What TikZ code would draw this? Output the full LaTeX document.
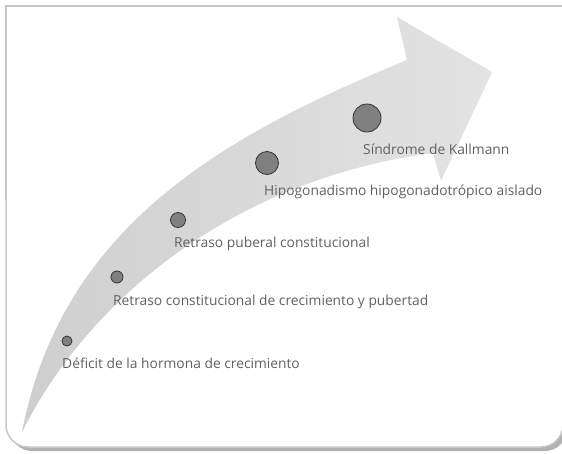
\documentclass[tikz,border=0pt]{standalone}
\usepackage{fontspec}
\setmainfont{Open Sans}
\usetikzlibrary{positioning}
\begin{document}
\begin{tikzpicture}[x=1pt,y=-1pt,font=\fontsize{13.8}{16}\selectfont]
  \tikzstyle{dot}=[circle,draw=black!80,fill=black!50,line width=0.8pt,inner sep=0pt]
  \tikzstyle{cause}=[anchor=base west,inner sep=0pt,text=black!62]
  \useasboundingbox (0,0) rectangle (562,453);
  % frame with shadow
  \fill[black!30,rounded corners=22pt] (10,100) -- (10,451) -- (567,451) -- (567,100) -- cycle;
  \fill[white,rounded corners=22pt] (6,6) -- (6,447) -- (563,447) -- (563,6) -- cycle;
  \draw[black!22,line width=1.5pt,rounded corners=22pt] (6,200) -- (6,447) -- (563,447) -- (563,200);
  \draw[black!22,line width=1.5pt] (6,200) -- (6,6) -- (563,6) -- (563,200);
  % curved arrow
  \shade[left color=black!19,right color=black!11] (22,432) .. controls (62,225) and (225,135) .. (407,60)
    -- (397,17) -- (492,72) -- (441,181) -- (433,153) .. controls (235,179) and (89,298) .. (22,432) -- cycle;
  \node[dot,minimum size=10pt] (ghd) at (67,341) {};
  \node[dot,minimum size=12pt] (rccp) at (117,277) {};
  \node[dot,minimum size=15pt] (rpc) at (178,220) {};
  \node[dot,minimum size=23pt] (hha) at (267,163) {};
  \node[dot,minimum size=28pt] (kal) at (367,118) {};
  \node[cause] (ghd-l) at (62,368) {Déficit de la hormona de crecimiento};
  \node[cause] (rccp-l) at (113,305) {Retraso constitucional de crecimiento y pubertad};
  \node[cause] (rpc-l) at (174,247) {Retraso puberal constitucional};
  \node[cause] (hha-l) at (264,195) {Hipogonadismo hipogonadotrópico aislado};
  \node[cause] (kal-l) at (363,154) {Síndrome de Kallmann};
\end{tikzpicture}
\end{document}
